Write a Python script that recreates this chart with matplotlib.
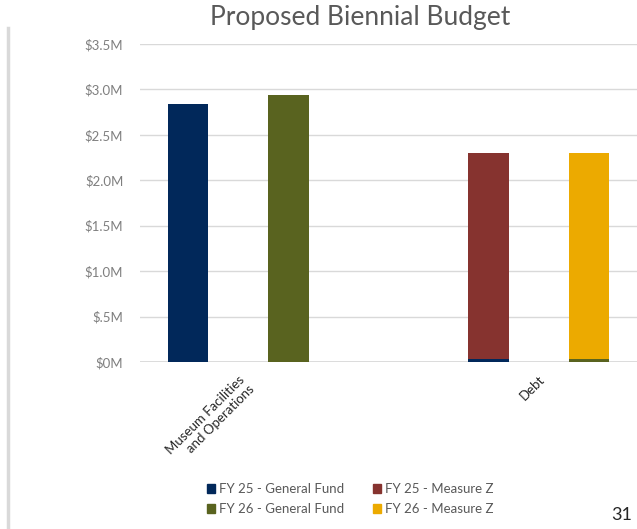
import numpy as np
import matplotlib.pyplot as plt
from matplotlib.lines import Line2D
from matplotlib.patches import Patch

# Budget by category, in $M
categories = ["Museum Facilities\nand Operations", "Debt"]
fy25_general = [2.84, 0.03]
fy25_measure_z = [0.0, 2.27]
fy26_general = [2.94, 0.03]
fy26_measure_z = [0.0, 2.27]
yticks = [0, 0.5, 1.0, 1.5, 2.0, 2.5, 3.0, 3.5]
ytick_labels = ["$0M", "$.5M", "$1.0M", "$1.5M", "$2.0M", "$2.5M", "$3.0M", "$3.5M"]

navy = "#01285a"
olive = "#59631f"
brick = "#86332f"
gold = "#ecaa00"

plt.rcParams['font.family'] = ['Lato', 'DejaVu Sans']

fig = plt.figure(figsize=(6.37, 5.29), dpi=100)
ax = fig.add_axes([140/637, 1 - 362/529, 497/637, 318/529])

x = np.arange(len(categories))
off = 0.167
w = 0.135

ax.bar(x - off, fy25_general, w, color=navy, zorder=3)
ax.bar(x - off, fy25_measure_z, w, bottom=fy25_general, color=brick, zorder=3)
ax.bar(x + off, fy26_general, w, color=olive, zorder=3)
ax.bar(x + off, fy26_measure_z, w, bottom=fy26_general, color=gold, zorder=3)

ax.set_xlim(-0.326, 1.326)
ax.set_ylim(0, 3.5)
ax.set_yticks(yticks)
ax.set_yticklabels(ytick_labels, color="#7f7f7f", fontsize=9.5)
ax.tick_params(axis='y', length=0, pad=12)
ax.yaxis.grid(True, color="#d9d9d9", linewidth=1, zorder=0)
ax.axhline(0, color="#d9d9d9", linewidth=2, zorder=2)

ax.set_xticks(x)
ax.set_xticklabels(categories, rotation=45, ha='right', rotation_mode='anchor',
                   fontsize=9.5, color="#262626", linespacing=1.2)
ax.tick_params(axis='x', length=0, pad=8)

for s in ax.spines.values():
    s.set_visible(False)

fig.text(0.565, 0.967, "Proposed Biennial Budget", ha='center', va='center',
         fontsize=19, color="#595959")

handles = [Patch(color=navy), Patch(color=olive), Patch(color=brick), Patch(color=gold)]
labels = ["FY 25 - General Fund", "FY 26 - General Fund",
          "FY 25 - Measure Z", "FY 26 - Measure Z"]
fig.legend(handles, labels, ncol=2, loc='center', bbox_to_anchor=(0.55, 0.0565),
           frameon=False, fontsize=9.5, labelcolor="#595959",
           handlelength=0.6, handleheight=0.6, handletextpad=0.3,
           columnspacing=2.2, labelspacing=0.6)

fig.add_artist(Line2D([8/637, 8/637], [0, 1 - 28/529], transform=fig.transFigure,
                      color="#d9d9d9", linewidth=2.5))
fig.text(622/637, 1 - 515/529, "31", ha='center', va='center', fontsize=13, color="#262626")

fig.savefig("out.png", dpi=100)
